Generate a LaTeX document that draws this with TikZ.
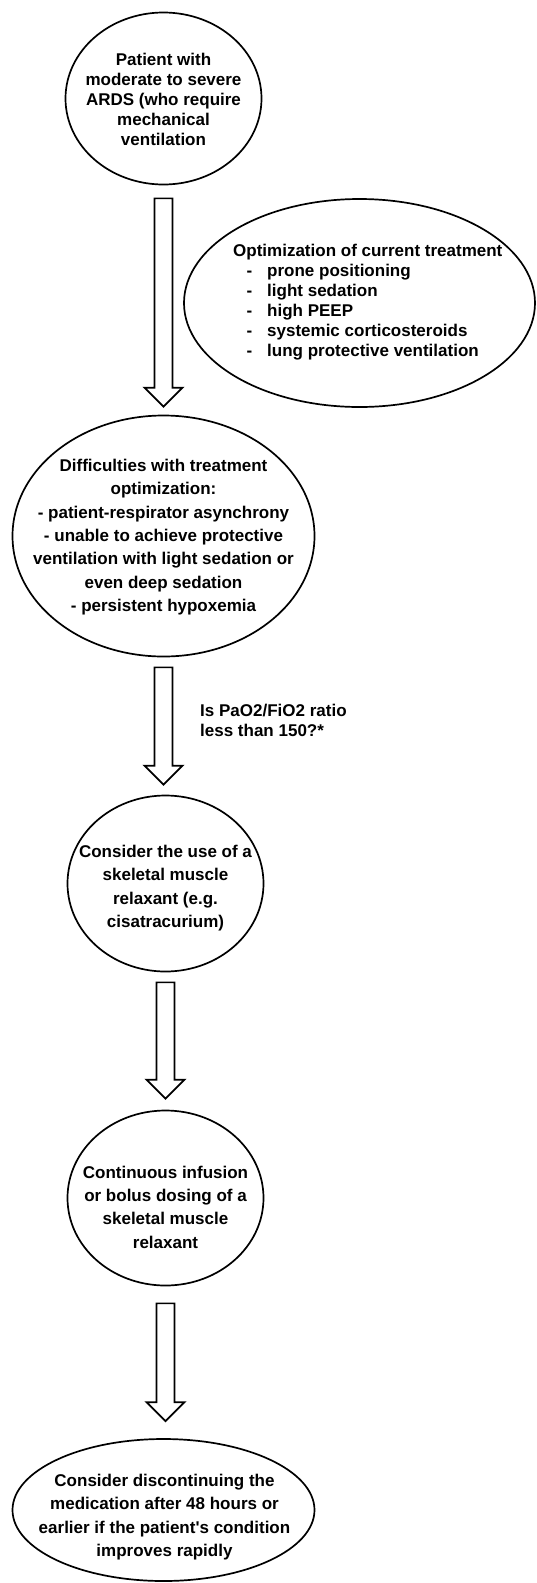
\documentclass[tikz,border=0pt]{standalone}
\usepackage{fontspec}
\setmainfont{Liberation Sans}[Ligatures=TeXOff]
\usetikzlibrary{shapes.geometric,calc}
\newcommand{\blockarr}[4]{%
  \draw[barrow] let \p1=($(#1.south)+(0,#3)$), \p2=($(#2.north)+(0,-#4)$) in
    (\x1-9pt,\y1) -- (\x1-9pt,\y2+19pt) -- (\x1-19pt,\y2+19pt) -- (\x1,\y2)
    -- (\x1+19pt,\y2+19pt) -- (\x1+9pt,\y2+19pt) -- (\x1+9pt,\y1) -- cycle;}
\begin{document}
\begin{tikzpicture}[x=1pt,y=-1pt,
  ell/.style={draw=black, line width=1.7pt, ellipse, inner sep=0pt},
  txt/.style={font=\fontsize{17}{23.3}\selectfont\bfseries, align=center, inner sep=0pt},
  txtb/.style={font=\fontsize{17}{20}\selectfont\bfseries, align=center, inner sep=0pt},
  barrow/.style={draw=black, line width=1.7pt, fill=white, line join=miter}]
\useasboundingbox (0,0) rectangle (537,1583);

% ellipses
\node[ell, minimum width=196pt, minimum height=172pt] (e1) at (163.5,98.5) {};
\node[ell, minimum width=351pt, minimum height=208pt] (e2) at (359.5,303) {};
\node[ell, minimum width=302pt, minimum height=241pt] (e3) at (163.5,536) {};
\node[ell, minimum width=196pt, minimum height=176pt] (e4) at (165.5,883.5) {};
\node[ell, minimum width=196pt, minimum height=175pt] (e5) at (165.5,1198) {};
\node[ell, minimum width=302pt, minimum height=142pt] (e6) at (163.5,1510) {};

% texts
\node[txtb] (t1) at (163.5,99.5) {Patient with\\moderate to severe\\ARDS (who require\\mechanical\\ventilation};
\node[txtb, align=left, anchor=west] (t2) at (233,302) {Optimization of current treatment\\
\hspace*{13.5pt}\makebox[20.5pt][l]{-}prone positioning\\
\hspace*{13.5pt}\makebox[20.5pt][l]{-}light sedation\\
\hspace*{13.5pt}\makebox[20.5pt][l]{-}high PEEP\\
\hspace*{13.5pt}\makebox[20.5pt][l]{-}systemic corticosteroids\\
\hspace*{13.5pt}\makebox[20.5pt][l]{-}lung protective ventilation};
\node[txt] (t3) at (163.5,537) {Difficulties with treatment\\optimization:\\- patient-respirator asynchrony\\- unable to achieve protective\\ventilation with light sedation or\\even deep sedation\\- persistent hypoxemia};
\node[txt] (t4) at (165.5,888) {Consider the use of a\\skeletal muscle\\relaxant (e.g.\\cisatracurium)};
\node[txt] (t5) at (165.5,1207) {Continuous infusion\\or bolus dosing of a\\skeletal muscle\\relaxant};
\node[txt] (t6) at (164.5,1517) {Consider discontinuing the\\medication after 48 hours or\\earlier if the patient's condition\\improves rapidly};
\node[txtb, align=left, anchor=west] (lbl) at (200,720) {Is PaO2/FiO2 ratio\\less than 150?*};

% block arrows
\blockarr{e1}{e3}{13}{8}
\blockarr{e3}{e4}{10}{10}
\blockarr{e4}{e5}{10}{11}
\blockarr{e5}{e6}{17}{17}
\end{tikzpicture}
\end{document}
